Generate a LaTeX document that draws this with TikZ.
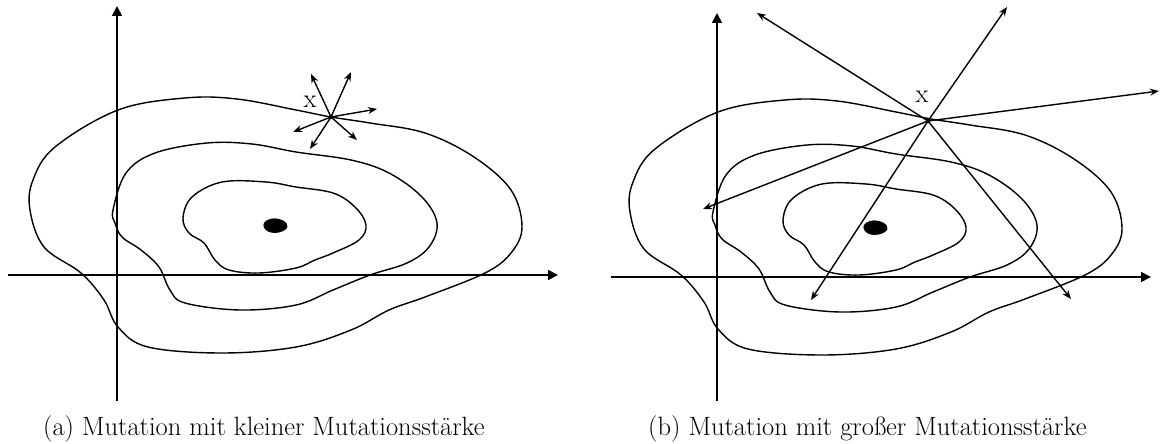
\documentclass[tikz,border=0pt]{standalone}
\usetikzlibrary{arrows.meta}
\begin{document}
\begin{tikzpicture}[x=1pt,y=-1pt,
  curve/.style={line width=1.4pt, line join=round},
  blob/.style={fill=black, draw=black, line width=0.8pt},
  axis/.style={line width=1.7pt,-{Triangle[length=10pt,width=10pt]}},
  mut/.style={line width=1.4pt,-{Stealth[length=9pt,width=7pt]}},
  lbl/.style={font=\fontsize{26.5}{28}\selectfont, inner sep=0pt},
  captext/.style={font=\fontsize{26.5}{30}\selectfont, inner sep=0pt, anchor=base west}]
\useasboundingbox (0,0) rectangle (1161,444);
\newcommand\mycontours{%
  \draw[curve] plot[smooth cycle, tension=0.6] coordinates {(33,180) (55,147) (118,110) (185,98) (237,99) (296,110) (331,117) (370,123) (425,133) (474,157) (511,190) (522,227) (511,253) (485,273) (425,297) (389,310) (351,330) (296,347) (222,353) (148,347) (118,327) (104,300) (81,273) (44,247) (30,210)};
  \draw[curve] plot[smooth cycle, tension=0.6] coordinates {(113,210) (126,173) (155,153) (207,143) (252,144) (296,152) (351,160) (389,173) (422,197) (437,223) (429,247) (407,263) (370,275) (333,290) (296,305) (240,310) (185,303) (170,290) (159,267) (141,250) (122,237) (115,223)};
  \draw[curve] plot[smooth cycle, tension=0.6] coordinates {(183,218) (192,197) (222,182) (266,182) (296,187) (333,193) (355,207) (366,225) (359,240) (333,253) (315,260) (296,268) (259,273) (229,270) (215,260) (204,243) (189,233)};
  \filldraw[blob] plot[smooth cycle, tension=0.7] coordinates {(264,224) (272,219) (283,221) (287,227) (279,232) (268,231)};
}
% ---------- panel (a)
\mycontours
\coordinate (axa0) at (8,275);  \coordinate (axa1) at (558,275);
\coordinate (aya0) at (117,401); \coordinate (aya1) at (117,6);
\draw[axis] (axa0) -- (axa1);
\draw[axis] (aya0) -- (aya1);
\coordinate (xa) at (331,117);
\node[lbl] (la) at (310,102) {x};
\coordinate (a1) at (311,74);
\coordinate (a2) at (351,72);
\coordinate (a3) at (377,109);
\coordinate (a4) at (357,140);
\coordinate (a5) at (310,149);
\coordinate (a6) at (293,132);
\foreach \e in {a1,a2,a3,a4,a5,a6} \draw[mut] (xa) -- (\e);
\fill (xa) circle (2.2pt);
\node[captext] (capa) at (43,435) {(a) Mutation mit kleiner Mutationsstärke};
% ---------- panel (b)
\begin{scope}[shift={(600,2)}]
\mycontours
\end{scope}
\coordinate (axb0) at (611,277);  \coordinate (axb1) at (1151,277);
\coordinate (ayb0) at (717,401); \coordinate (ayb1) at (717,13);
\draw[axis] (axb0) -- (axb1);
\draw[axis] (ayb0) -- (ayb1);
\coordinate (xb) at (928,121);
\node[lbl] (lb) at (922,97) {x};
\coordinate (b1) at (757,13);
\coordinate (b2) at (1007,7);
\coordinate (b3) at (1159,91);
\coordinate (b4) at (703,209);
\coordinate (b5) at (811,300);
\coordinate (b6) at (1071,299);
\foreach \e in {b1,b2,b3,b4,b5,b6} \draw[mut] (xb) -- (\e);
\fill (xb) circle (2.2pt);
\node[captext] (capb) at (648,435) {(b) Mutation mit großer Mutationsstärke};
\end{tikzpicture}
\end{document}
